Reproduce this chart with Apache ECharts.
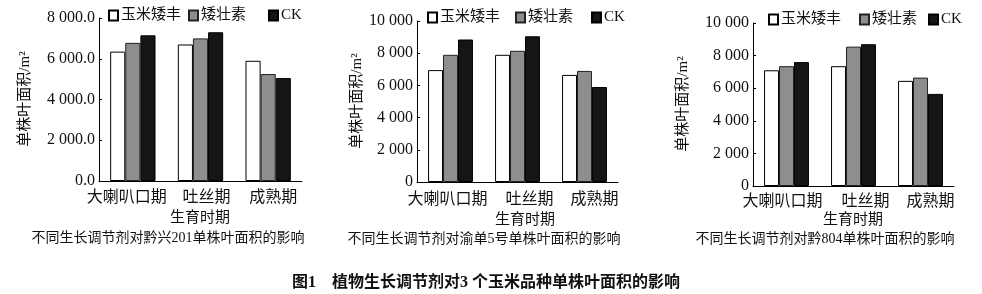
<!DOCTYPE html>
<html><head><meta charset="utf-8">
<script src="https://cdn.jsdelivr.net/npm/echarts@6/dist/echarts.min.js"></script>
<style>html,body{margin:0;padding:0;background:#fff}#c{width:982px;height:294px}</style>
</head><body><div id="c"></div>
<script>
const categories = ['大喇叭口期', '吐丝期', '成熟期'];
const seriesNames = ['玉米矮丰', '矮壮素', 'CK'];
// 黔兴201
const qx201_ywaf = [6350, 6700, 5900];
const qx201_azs = [6780, 7000, 5250];
const qx201_ck = [7150, 7300, 5050];
// 渝单5号
const yd5_ywaf = [6950, 7900, 6650];
const yd5_azs = [7900, 8150, 6900];
const yd5_ck = [8850, 9050, 5900];
// 黔804
const q804_ywaf = [7100, 7350, 6450];
const q804_azs = [7350, 8550, 6650];
const q804_ck = [7600, 8700, 5650];
const subtitles = ['不同生长调节剂对黔兴201单株叶面积的影响', '不同生长调节剂对渝单5号单株叶面积的影响', '不同生长调节剂对黔804单株叶面积的影响'];
const yName = '单株叶面积/m²';
const xName = '生育时期';
const caption = '图1　植物生长调节剂对3 个玉米品种单株叶面积的影响';

const FONT = '"Liberation Serif", "Noto Sans CJK SC", serif';
const INK = '#111';
const styles = [
  {color: '#ffffff', borderColor: '#000', borderWidth: 1},
  {color: '#8e8e8e', borderColor: '#222', borderWidth: 1},
  {color: '#151515', borderColor: '#000', borderWidth: 1}
];
const data = [
  [qx201_ywaf, qx201_azs, qx201_ck],
  [yd5_ywaf, yd5_azs, yd5_ck],
  [q804_ywaf, q804_azs, q804_ck]
];
const grids = [
  {left: 99, top: 18, width: 203, height: 163},
  {left: 417, top: 21, width: 201, height: 161},
  {left: 753, top: 23, width: 201, height: 163}
];
// horizontal nudges of category labels (px), as printed
const labelShift = [[-6, 6, 5], [-3, 12, 10], [-4, 12, 10]];
const fmt1 = v => { if (v === 0) return '0.0'; const t = Math.floor(v / 1000), r = v % 1000; return t + ' ' + String(r).padStart(3, '0') + '.0'; };
const fmt2 = v => { if (v === 0) return '0'; const t = Math.floor(v / 1000), r = v % 1000; return t + ' ' + String(r).padStart(3, '0'); };

const xAxis = [], yAxis = [], series = [], legend = [];
const legendX = [[108, 188, 268], [427, 515, 591], [768, 859, 928]];
const legendY = [8, 10, 12];
for (let i = 0; i < 3; i++) {
  const rich = {};
  labelShift[i].forEach((d, k) => {
    rich['c' + k] = {fontSize: 16, fontFamily: FONT, color: INK, padding: d >= 0 ? [0, 0, 0, 2 * d] : [0, -2 * d, 0, 0]};
  });
  xAxis.push({
    type: 'category', gridIndex: i, data: categories,
    axisLine: {lineStyle: {color: '#000', width: 1}},
    axisTick: {inside: true, length: 3, lineStyle: {color: '#000'}},
    axisLabel: {interval: 0, color: INK, fontSize: 16, fontFamily: FONT, margin: [9, 10, 8][i],
      formatter: (v, idx) => '{c' + idx + '|' + v + '}', rich}
  });
  yAxis.push({
    type: 'value', gridIndex: i, min: 0, max: i === 0 ? 8000 : 10000, interval: 2000,
    splitLine: {show: false},
    axisLine: {show: true, lineStyle: {color: '#000', width: 1}},
    axisTick: {show: true, inside: true, length: 3, lineStyle: {color: '#000'}},
    axisLabel: {color: INK, fontSize: 16, fontFamily: FONT, margin: 4, formatter: i === 0 ? fmt1 : fmt2}
  });
  for (let s = 0; s < 3; s++) {
    series.push({
      type: 'bar', name: seriesNames[s], xAxisIndex: i, yAxisIndex: i,
      data: data[i][s], barGap: 0, barCategoryGap: '33%',
      itemStyle: styles[s], emphasis: {disabled: true}
    });
    legend.push({
      data: [seriesNames[s]], left: legendX[i][s], top: legendY[i], icon: 'rect',
      itemWidth: 9, itemHeight: 10, padding: 0, selectedMode: false,
      textStyle: {color: INK, fontSize: 15, fontFamily: FONT, padding: [0, 0, 0, -2]}
    });
  }
}
const graphic = [
  {type: 'text', x: 25, y: 99, rotation: Math.PI / 2, style: {text: yName, font: '15px ' + FONT, fill: INK, textAlign: 'center', textVerticalAlign: 'middle'}},
  {type: 'text', x: 357, y: 101, rotation: Math.PI / 2, style: {text: yName, font: '15px ' + FONT, fill: INK, textAlign: 'center', textVerticalAlign: 'middle'}},
  {type: 'text', x: 683, y: 104, rotation: Math.PI / 2, style: {text: yName, font: '15px ' + FONT, fill: INK, textAlign: 'center', textVerticalAlign: 'middle'}},
  {type: 'text', x: 200, y: 218, style: {text: xName, font: '15px ' + FONT, fill: INK, textAlign: 'center', textVerticalAlign: 'middle'}},
  {type: 'text', x: 525, y: 220, style: {text: xName, font: '15px ' + FONT, fill: INK, textAlign: 'center', textVerticalAlign: 'middle'}},
  {type: 'text', x: 853, y: 220, style: {text: xName, font: '15px ' + FONT, fill: INK, textAlign: 'center', textVerticalAlign: 'middle'}},
  {type: 'text', x: 168, y: 238, style: {text: subtitles[0], font: '14px ' + FONT, fill: INK, textAlign: 'center', textVerticalAlign: 'middle'}},
  {type: 'text', x: 484, y: 239, style: {text: subtitles[1], font: '14px ' + FONT, fill: INK, textAlign: 'center', textVerticalAlign: 'middle'}},
  {type: 'text', x: 825, y: 239, style: {text: subtitles[2], font: '14px ' + FONT, fill: INK, textAlign: 'center', textVerticalAlign: 'middle'}},
  {type: 'text', x: 486, y: 283, style: {text: caption, font: 'bold 16px ' + FONT, fill: INK, textAlign: 'center', textVerticalAlign: 'middle'}}
];
const chart = echarts.init(document.getElementById('c'), null, {renderer: 'canvas'});
chart.setOption({
  animation: false, backgroundColor: '#fff',
  grid: grids, xAxis, yAxis, series, legend, graphic
});
</script></body></html>
